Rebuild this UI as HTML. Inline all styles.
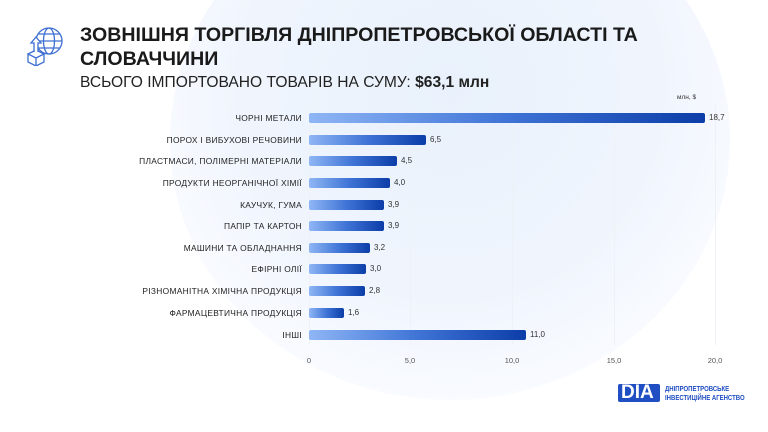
<!DOCTYPE html><html><head><meta charset="utf-8"><style>
body{margin:0;width:768px;height:432px;overflow:hidden;background:#fff;font-family:"Liberation Sans",sans-serif;position:relative}
.bg{position:absolute;left:170px;top:-120px;width:560px;height:520px;border-radius:50%;background:radial-gradient(circle at 50% 40%,#e9f1fc 0%,#f0f5fd 50%,#f9fbff 75%,#fff 90%)}
.t{position:absolute;left:80px;top:23px;font-size:19.6px;font-weight:bold;color:#1a1a1a;line-height:24px}
.s{position:absolute;left:80px;top:74px;font-size:15.6px;color:#222}
.s b{font-weight:bold}
.lab{position:absolute;right:466px;font-size:8.4px;color:#222;text-align:right;white-space:nowrap;letter-spacing:0.3px}
.bar{position:absolute;left:309px;height:10px;border-radius:2px;background:linear-gradient(90deg,#8fb6f5,#3f74d6 50%,#0c3da8)}
.v{position:absolute;font-size:8px;color:#333}
.g{position:absolute;top:105px;height:240px;width:1px;background:#eef1f6}
.ax{position:absolute;top:356px;font-size:7.5px;color:#555;transform:translateX(-50%)}
</style></head><body>
<div class="bg"></div>
<svg style="position:absolute;left:24px;top:26px" width="42" height="40" viewBox="0 0 42 40" fill="none" stroke="#3d6fd1" stroke-width="1.3"><circle cx="25" cy="15" r="13"/><ellipse cx="25" cy="15" rx="5.5" ry="13"/><line x1="12" y1="15" x2="38" y2="15"/><line x1="14" y1="8" x2="36" y2="8"/><line x1="14" y1="22" x2="36" y2="22"/><path d="M4 28 L12 24 L20 28 L12 32 Z M4 28 V36 L12 40 L20 36 V28 M12 32 V40" fill="#fff"/><path d="M10 26 V17 H7 L12 11 L17 17 H14 V26" fill="#fff"/></svg>
<div class="t">ЗОВНІШНЯ ТОРГІВЛЯ ДНІПРОПЕТРОВСЬКОЇ ОБЛАСТІ ТА<br>СЛОВАЧЧИНИ</div>
<div class="s">ВСЬОГО ІМПОРТОВАНО ТОВАРІВ НА СУМУ: <b>$63,1 млн</b></div>
<div class="g" style="left:309px"></div><div class="g" style="left:410px"></div><div class="g" style="left:512px"></div><div class="g" style="left:614px"></div><div class="g" style="left:715px"></div>
<div class="v" style="left:677px;top:94px;font-size:6.5px">млн, $</div>
<div class="lab" style="top:113px">ЧОРНІ МЕТАЛИ</div><div class="bar" style="top:113px;width:396px"></div><div class="v" style="left:709px;top:113px">18,7</div>
<div class="lab" style="top:135px">ПОРОХ І ВИБУХОВІ РЕЧОВИНИ</div><div class="bar" style="top:135px;width:117px"></div><div class="v" style="left:430px;top:135px">6,5</div>
<div class="lab" style="top:156px">ПЛАСТМАСИ, ПОЛІМЕРНІ МАТЕРІАЛИ</div><div class="bar" style="top:156px;width:88px"></div><div class="v" style="left:401px;top:156px">4,5</div>
<div class="lab" style="top:178px">ПРОДУКТИ НЕОРГАНІЧНОЇ ХІМІЇ</div><div class="bar" style="top:178px;width:81px"></div><div class="v" style="left:394px;top:178px">4,0</div>
<div class="lab" style="top:200px">КАУЧУК, ГУМА</div><div class="bar" style="top:200px;width:75px"></div><div class="v" style="left:388px;top:200px">3,9</div>
<div class="lab" style="top:221px">ПАПІР ТА КАРТОН</div><div class="bar" style="top:221px;width:75px"></div><div class="v" style="left:388px;top:221px">3,9</div>
<div class="lab" style="top:243px">МАШИНИ ТА ОБЛАДНАННЯ</div><div class="bar" style="top:243px;width:61px"></div><div class="v" style="left:374px;top:243px">3,2</div>
<div class="lab" style="top:264px">ЕФІРНІ ОЛІЇ</div><div class="bar" style="top:264px;width:57px"></div><div class="v" style="left:370px;top:264px">3,0</div>
<div class="lab" style="top:286px">РІЗНОМАНІТНА ХІМІЧНА ПРОДУКЦІЯ</div><div class="bar" style="top:286px;width:56px"></div><div class="v" style="left:369px;top:286px">2,8</div>
<div class="lab" style="top:308px">ФАРМАЦЕВТИЧНА ПРОДУКЦІЯ</div><div class="bar" style="top:308px;width:35px"></div><div class="v" style="left:348px;top:308px">1,6</div>
<div class="lab" style="top:330px">ІНШІ</div><div class="bar" style="top:330px;width:217px"></div><div class="v" style="left:530px;top:330px">11,0</div>
<div class="ax" style="left:309px">0</div><div class="ax" style="left:410px">5,0</div><div class="ax" style="left:512px">10,0</div><div class="ax" style="left:614px">15,0</div><div class="ax" style="left:715px">20,0</div>
<div style="position:absolute;left:618px;top:384px;width:42px;height:18px;background:#1f4fc2;border-radius:2px"></div>
<div style="position:absolute;left:621px;top:383px;font-weight:bold;font-size:19px;color:#fff;letter-spacing:0px;line-height:20px">DIA</div>
<div style="position:absolute;left:665px;top:384px;font-size:7.5px;color:#1f4fc2;line-height:9px;font-weight:bold;transform:scaleX(0.8);transform-origin:left">ДНІПРОПЕТРОВСЬКЕ<br>ІНВЕСТИЦІЙНЕ АГЕНСТВО</div>
</body></html>
